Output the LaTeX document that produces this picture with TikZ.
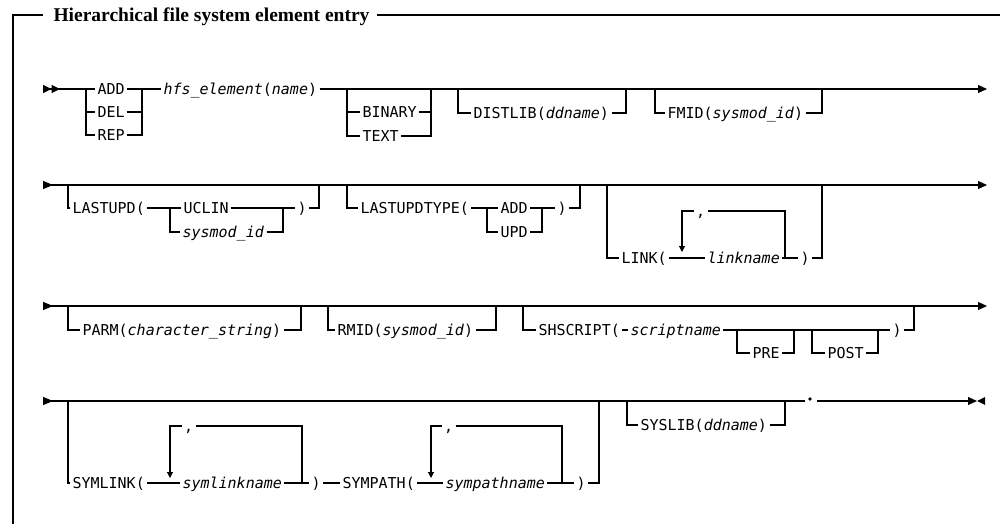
\documentclass[tikz,border=0pt]{standalone}
\usepackage{fontspec}
\newfontfamily\synfont{DejaVu Sans Mono}
\newfontfamily\ttlfont{Liberation Serif}
\usetikzlibrary{arrows.meta}

\begin{document}
\begin{tikzpicture}[x=1pt, y=-1pt, line width=1.1pt,
	kw/.style={font=\synfont\fontsize{15}{18}\selectfont, anchor=west, inner sep=0pt, inner xsep=2pt, text height=12.7pt, text depth=1.6pt},
	first/.style={{Triangle[reversed,length=8.5pt,width=8pt]Triangle[reversed,length=8.5pt,width=8pt]}-},
	through/.style={{Triangle[reversed,length=10pt,width=8pt]}-{Triangle[length=9pt,width=8pt]}},
	tail/.style={-{Triangle[length=9pt,width=8pt]}},
	back/.style={-{Triangle[length=6pt,width=6pt]}}]
	\useasboundingbox (0,0) rectangle (1005,524);
	% frame and title
	\node[font=\ttlfont\bfseries\fontsize{19.5}{22}\selectfont, anchor=base west, inner sep=0pt, inner xsep=7pt] (title) at (46,21.5) {Hierarchical file system element entry};
	\coordinate (fl) at (13,524);
	\coordinate (ft) at (43,15);
	\coordinate (fr) at (1000,15);
	\draw (fl) |- (ft);
	\draw (title.east |- ft) -- (fr);
	% row 1
	\coordinate (s1) at (43,89);
	\coordinate (e1) at (987,89);
	\coordinate (ja) at (86,89);
	\coordinate (jb) at (142,89);
	\node[kw] (add) at (95,89) {ADD};
	\node[kw] (del) at (95,112) {DEL};
	\node[kw] (rep) at (95,135) {REP};
	\node[kw] (hfs) at (161,89) {\textit{hfs\_element}(\textit{name})};
	\draw[first] (s1) -- (add.west);
	\draw (ja) |- (del.west);
	\draw (ja) |- (rep.west);
	\draw (add.east) -- (hfs.west);
	\draw (del.east) -| (jb);
	\draw (rep.east) -| (jb);
	\draw[tail] (hfs.east) -- (e1);
	\coordinate (b1) at (347,89);
	\coordinate (b2) at (431,89);
	\node[kw] (binary) at (360,112) {BINARY};
	\node[kw] (text) at (360,136) {TEXT};
	\draw (b1) |- (binary.west);
	\draw (b1) |- (text.west);
	\draw (binary.east) -| (b2);
	\draw (text.east) -| (b2);
	\coordinate (d1) at (458,89);
	\coordinate (d2) at (626,89);
	\node[kw] (distlib) at (471,113) {DISTLIB(\textit{ddname})};
	\draw (d1) |- (distlib.west);
	\draw (distlib.east) -| (d2);
	\coordinate (f1) at (655,89);
	\coordinate (f2) at (822,89);
	\node[kw] (fmid) at (665,113) {FMID(\textit{sysmod\_id})};
	\draw (f1) |- (fmid.west);
	\draw (fmid.east) -| (f2);
	% row 2
	\coordinate (s2) at (43,185);
	\coordinate (e2) at (987,185);
	\draw[through] (s2) -- (e2);
	\coordinate (u1) at (68,185);
	\coordinate (u2) at (319,185);
	\coordinate (u3) at (170,208);
	\coordinate (u4) at (283,208);
	\node[kw] (lastupd) at (70,208) {LASTUPD(};
	\node[kw] (uclin) at (181,208) {UCLIN};
	\node[kw] (sysmod) at (180,232) {\textit{sysmod\_id}};
	\node[kw] (uclose) at (295,208) {)};
	\draw (u1) |- (lastupd.west);
	\draw (lastupd.east) -- (uclin.west);
	\draw (u3) |- (sysmod.west);
	\draw (uclin.east) -- (uclose.west);
	\draw (sysmod.east) -| (u4);
	\draw (uclose.east) -| (u2);
	\coordinate (t1) at (347,185);
	\coordinate (t2) at (580,185);
	\coordinate (t3) at (487,208);
	\coordinate (t4) at (542,208);
	\node[kw] (lastupdtype) at (358,208) {LASTUPDTYPE(};
	\node[kw] (tadd) at (498,208) {ADD};
	\node[kw] (tupd) at (498,232) {UPD};
	\node[kw] (tclose) at (555,208) {)};
	\draw (t1) |- (lastupdtype.west);
	\draw (lastupdtype.east) -- (tadd.west);
	\draw (t3) |- (tupd.west);
	\draw (tadd.east) -- (tclose.west);
	\draw (tupd.east) -| (t4);
	\draw (tclose.east) -| (t2);
	\coordinate (k1) at (607,185);
	\coordinate (k2) at (822,185);
	\coordinate (kd) at (682,252);
	\coordinate (kr) at (785,258);
	\node[kw] (link) at (619,258) {LINK(};
	\node[kw] (linkname) at (705,258) {\textit{linkname}};
	\node[kw] (kclose) at (798,258) {)};
	\node[kw] (kcomma) at (693.5,211) {,};
	\draw (k1) |- (link.west);
	\draw (link.east) -- (linkname.west);
	\draw (linkname.east) -- (kclose.west);
	\draw (kclose.east) -| (k2);
	\draw[back] (kcomma.west) -| (kd);
	\draw (kcomma.east) -| (kr);
	% row 3
	\coordinate (s3) at (43,306);
	\coordinate (e3) at (987,306);
	\draw[through] (s3) -- (e3);
	\coordinate (p1) at (68,306);
	\coordinate (p2) at (301,306);
	\node[kw] (parm) at (80,330) {PARM(\textit{character\_string})};
	\draw (p1) |- (parm.west);
	\draw (parm.east) -| (p2);
	\coordinate (r1) at (328,306);
	\coordinate (r2) at (496,306);
	\node[kw] (rmid) at (335,330) {RMID(\textit{sysmod\_id})};
	\draw (r1) |- (rmid.west);
	\draw (rmid.east) -| (r2);
	\coordinate (h1) at (523,306);
	\coordinate (h2) at (914,306);
	\node[kw] (shscript) at (536,330) {SHSCRIPT(};
	\node[kw] (scriptname) at (628,330) {\textit{scriptname}};
	\node[kw] (hclose) at (890,330) {)};
	\draw (h1) |- (shscript.west);
	\draw (shscript.east) -- (scriptname.west);
	\draw (scriptname.east) -- (hclose.west);
	\draw (hclose.east) -| (h2);
	\coordinate (q1) at (737,330);
	\coordinate (q2) at (794,330);
	\node[kw] (pre) at (750,353) {PRE};
	\draw (q1) |- (pre.west);
	\draw (pre.east) -| (q2);
	\coordinate (o1) at (812,330);
	\coordinate (o2) at (878,330);
	\node[kw] (post) at (825,353) {POST};
	\draw (o1) |- (post.west);
	\draw (post.east) -| (o2);
	% row 4
	\coordinate (s4) at (43,401);
	\coordinate (m4) at (805,401);
	\coordinate (c4) at (817,401);
	\coordinate (e4) at (977,401);
	\node[circle, fill, inner sep=0pt, minimum size=3.6pt] (dot) at (810,399) {};
	\draw[{Triangle[reversed,length=10pt,width=8pt]}-] (s4) -- (m4);
	\draw[tail] (c4) -- (e4);
	\fill (985,397) -- (e4) -- (985,405) -- cycle;
	\coordinate (y1) at (68,401);
	\coordinate (y2) at (599,401);
	\coordinate (yd) at (170,478);
	\coordinate (yr) at (302,483);
	\coordinate (zd) at (431,478);
	\coordinate (zr) at (562,483);
	\node[kw] (symlink) at (70,483) {SYMLINK(};
	\node[kw] (symlinkname) at (180,483) {\textit{symlinkname}};
	\node[kw] (yclose) at (309,483) {)};
	\node[kw] (ycomma) at (181.5,426) {,};
	\node[kw] (sympath) at (340,483) {SYMPATH(};
	\node[kw] (sympathname) at (443,483) {\textit{sympathname}};
	\node[kw] (zclose) at (574,483) {)};
	\node[kw] (zcomma) at (441.5,426) {,};
	\draw (y1) |- (symlink.west);
	\draw (symlink.east) -- (symlinkname.west);
	\draw (symlinkname.east) -- (yclose.west);
	\draw (yclose.east) -- (sympath.west);
	\draw (sympath.east) -- (sympathname.west);
	\draw (sympathname.east) -- (zclose.west);
	\draw (zclose.east) -| (y2);
	\draw[back] (ycomma.west) -| (yd);
	\draw (ycomma.east) -| (yr);
	\draw[back] (zcomma.west) -| (zd);
	\draw (zcomma.east) -| (zr);
	\coordinate (l1) at (627,401);
	\coordinate (l2) at (785,401);
	\node[kw] (syslib) at (638,425) {SYSLIB(\textit{ddname})};
	\draw (l1) |- (syslib.west);
	\draw (syslib.east) -| (l2);
\end{tikzpicture}
\end{document}
